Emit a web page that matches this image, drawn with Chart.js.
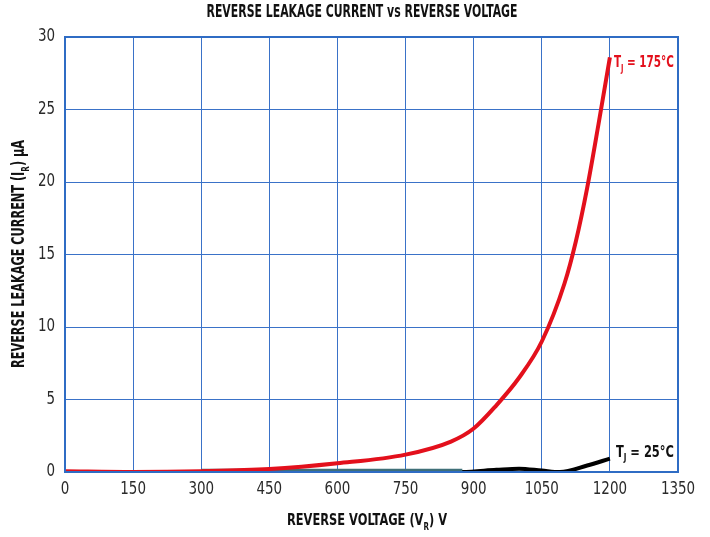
<!DOCTYPE html>
<html>
<head>
<meta charset="utf-8">
<script src="https://cdn.jsdelivr.net/npm/chart.js@4.4.1/dist/chart.umd.min.js"></script>
<style>
  html, body { margin: 0; padding: 0; background: #fff; }
  #wrap { width: 710px; height: 537px; }
</style>
</head>
<body>
<div id="wrap"><canvas id="chart" width="710" height="537"></canvas></div>
<script>
const FONT = "'Liberation Sans Narrow', 'DejaVu Sans Condensed', 'Arial Narrow', sans-serif";

// T_J = 175°C
const hotVoltage = [0, 150, 300, 450, 600, 750, 850, 900, 950, 1000, 1050, 1100, 1125, 1150, 1175, 1200];
const hotCurrent = [0.05, 0.0, 0.05, 0.2, 0.6, 1.2, 2.1, 3.0, 4.6, 6.5, 9.0, 13.0, 15.9, 19.6, 24.0, 28.6];

// T_J = 25°C
const coldVoltage = [0, 150, 300, 450, 600, 750, 875, 950, 1000, 1050, 1090, 1150, 1200];
const coldCurrent = [0, 0, 0, 0, 0, 0, 0, 0.15, 0.23, 0.1, 0.0, 0.45, 0.92];

// thin trace near zero
const flatVoltage = [300, 875];
const flatCurrent = [0.13, 0.13];

const xTicks = [0, 150, 300, 450, 600, 750, 900, 1050, 1200, 1350];
const yTicks = [0, 5, 10, 15, 20, 25, 30];

const toPoints = (xs, ys) => xs.map((x, i) => ({ x, y: ys[i] }));

// label with subscript parts, squeezed to a given width (the original uses a condensed face)
function drawParts(ctx, parts, x, y, size, width, align) {
  const subSize = Math.round(size * 0.62);
  let total = 0;
  parts.forEach(([t, sub]) => {
    ctx.font = "bold " + (sub ? subSize : size) + "px " + FONT;
    total += ctx.measureText(t).width;
  });
  const sx = width / total;
  ctx.save();
  ctx.translate(align === "center" ? x - width / 2 : x, y);
  ctx.scale(sx, 1);
  ctx.textAlign = "left";
  ctx.textBaseline = "middle";
  let cx = 0;
  parts.forEach(([t, sub]) => {
    ctx.font = "bold " + (sub ? subSize : size) + "px " + FONT;
    ctx.fillText(t, cx, sub ? size * 0.38 : 0);
    cx += ctx.measureText(t).width;
  });
  ctx.restore();
}

// condensed tick text
function drawTick(ctx, text, x, y, align) {
  ctx.save();
  ctx.translate(x, y);
  ctx.scale(0.88, 1);
  ctx.font = "17px " + FONT;
  ctx.textAlign = align;
  ctx.textBaseline = "middle";
  ctx.fillText(text, 0, 0);
  ctx.restore();
}

const labelsPlugin = {
  id: "labels",
  afterDraw(chart) {
    const ctx = chart.ctx;
    const xs = chart.scales.x, ys = chart.scales.y;
    ctx.save();
    ctx.fillStyle = "#2a2a2a";
    xTicks.forEach((v) => drawTick(ctx, String(v), xs.getPixelForValue(v), 490, "center"));
    yTicks.forEach((v) => drawTick(ctx, String(v), 55, ys.getPixelForValue(v), "right"));

    ctx.fillStyle = "#111";
    drawParts(ctx, [["REVERSE LEAKAGE CURRENT vs REVERSE VOLTAGE", false]], 362, 12, 18, 311, "center");
    drawParts(ctx, [["REVERSE VOLTAGE (V", false], ["R", true], [") V", false]], 367, 521, 16, 160, "center");
    ctx.save();
    ctx.translate(20, 254);
    ctx.rotate(-Math.PI / 2);
    drawParts(ctx, [["REVERSE LEAKAGE CURRENT (I", false], ["R", true], [") µA", false]], 0, 0, 17, 228, "center");
    ctx.restore();

    ctx.fillStyle = "#e3101c";
    drawParts(ctx, [["T", false], ["J", true], [" = 175°C", false]],
      xs.getPixelForValue(1200) + 4, ys.getPixelForValue(28.2), 16, 60, "left");
    ctx.fillStyle = "#111";
    drawParts(ctx, [["T", false], ["J", true], [" = 25°C", false]],
      xs.getPixelForValue(1200) + 6, ys.getPixelForValue(1.35), 16, 58, "left");
    ctx.restore();
  }
};

new Chart(document.getElementById("chart"), {
  type: "line",
  data: {
    datasets: [
      {
        data: toPoints(hotVoltage, hotCurrent),
        borderColor: "#e3101c",
        borderWidth: 4,
        pointRadius: 0,
        cubicInterpolationMode: "monotone",
      },
      {
        data: toPoints(flatVoltage, flatCurrent),
        borderColor: "#3f6f78",
        borderWidth: 2.5,
        pointRadius: 0,
      },
      {
        data: toPoints(coldVoltage, coldCurrent),
        borderColor: "#000",
        borderWidth: 4,
        pointRadius: 0,
        cubicInterpolationMode: "monotone",
      },
    ],
  },
  options: {
    responsive: false,
    animation: false,
    layout: { padding: { top: 37, right: 32, left: 0, bottom: 0 } },
    plugins: { legend: { display: false }, tooltip: { enabled: false } },
    scales: {
      x: {
        type: "linear",
        min: 0,
        max: 1350,
        afterBuildTicks: (s) => { s.ticks = xTicks.map((v) => ({ value: v })); },
        afterFit: (s) => { s.height = 65; },
        grid: { color: "#3a72c8", lineWidth: 1, drawTicks: false },
        border: { color: "#2f6cc4", width: 2 },
        ticks: { display: false },
      },
      y: {
        min: 0,
        max: 30,
        afterBuildTicks: (s) => { s.ticks = yTicks.map((v) => ({ value: v })); },
        afterFit: (s) => { s.width = 65; },
        grid: { color: "#3a72c8", lineWidth: 1, drawTicks: false },
        border: { color: "#2f6cc4", width: 2 },
        ticks: { display: false },
      },
    },
  },
  plugins: [
    labelsPlugin,
    {
      id: "frame",
      afterDraw(chart) {
        const a = chart.chartArea, ctx = chart.ctx;
        ctx.save();
        ctx.strokeStyle = "#2f6cc4";
        ctx.lineWidth = 2;
        ctx.strokeRect(a.left, a.top, a.right - a.left, a.bottom - a.top);
        ctx.restore();
      },
    },
  ],
});
</script>
</body>
</html>
